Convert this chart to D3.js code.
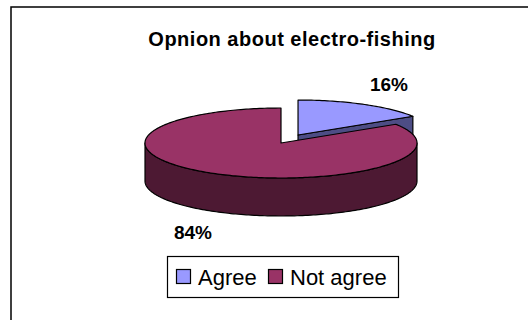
<!DOCTYPE html>
<html><head><meta charset="utf-8">
<script src="https://cdn.jsdelivr.net/npm/d3@7"></script>
<style>html,body{margin:0;padding:0;background:#fff;}svg{display:block;}</style>
</head><body>
<script>
const title = "Opnion about electro-fishing";
const categories = ["Agree", "Not agree"];
const values = [16, 84];
const labels = ["16%", "84%"];
const topColors = ["#9999ff", "#993366"];
const sideColors = ["#4d4d85", "#4d1933"];

const W = 528, H = 320;
const svg = d3.select("body").append("svg").attr("width", W).attr("height", H);
svg.append("rect").attr("x", 11).attr("y", 7).attr("width", 540).attr("height", 340)
  .attr("fill", "#fff").attr("stroke", "#000").attr("stroke-width", 1.5);

svg.append("text").attr("x", 292).attr("y", 46).attr("text-anchor", "middle")
  .attr("font-family", "Liberation Sans, Arial, sans-serif").attr("font-weight", "bold")
  .attr("font-size", 20).attr("letter-spacing", 0.5).text(title);

const cx = 281, cy = 143, rx = 136, ry = 35, depth = 38, explode = 0.26;
const pie = d3.pie().sort(null).startAngle(0).endAngle(2 * Math.PI);
const arcs = pie(values);

function pt(a, ox, oy, dz) { return [cx + ox + rx * Math.sin(a), cy + oy - ry * Math.cos(a) + (dz || 0)]; }
function samples(a0, a1) {
  const n = Math.max(2, Math.ceil(Math.abs(a1 - a0) / 0.02));
  return d3.range(n + 1).map(i => a0 + (a1 - a0) * i / n);
}
const line = d3.line();
const offsets = arcs.map((d, i) => {
  if (i !== 0) return [0, 0];
  const m = (d.startAngle + d.endAngle) / 2;
  return [explode * rx * Math.sin(m), -explode * ry * Math.cos(m)];
});

const g = svg.append("g").attr("stroke", "#000").attr("stroke-width", 1.2).attr("stroke-linejoin", "round");

function drawSlice(d, i) {
  const [ox, oy] = offsets[i];
  const c = [cx + ox, cy + oy];
  // radial faces visible
  [d.startAngle, d.endAngle].forEach((a, k) => {
    const normal = k === 0 ? a - Math.PI / 2 : a + Math.PI / 2;
    if (Math.cos(normal) < -0.01) {
      const p = pt(a, ox, oy);
      g.append("path").attr("fill", sideColors[i])
        .attr("d", line([c, p, [p[0], p[1] + depth], [c[0], c[1] + depth]]) + "Z");
    }
  });
  // outer wall, visible between PI/2 and 3PI/2
  const a0 = Math.max(d.startAngle, Math.PI / 2), a1 = Math.min(d.endAngle, 3 * Math.PI / 2);
  if (a1 > a0) {
    const top = samples(a0, a1).map(a => pt(a, ox, oy));
    const bot = samples(a1, a0).map(a => pt(a, ox, oy, depth));
    g.append("path").attr("fill", sideColors[i]).attr("d", line(top.concat(bot)) + "Z");
  }
  // top face
  const rim = samples(d.startAngle, d.endAngle).map(a => pt(a, ox, oy));
  g.append("path").attr("fill", topColors[i]).attr("d", line([c].concat(rim)) + "Z");
}
arcs.forEach(drawSlice);

const lblPos = [[389, 91], [193, 239]];
svg.selectAll("text.pct").data(labels).enter().append("text").attr("class", "pct")
  .attr("x", (d, i) => lblPos[i][0]).attr("y", (d, i) => lblPos[i][1])
  .attr("text-anchor", "middle").attr("font-family", "Liberation Sans, Arial, sans-serif")
  .attr("font-weight", "bold").attr("font-size", 19).text(d => d);

// legend
const lg = svg.append("g");
lg.append("rect").attr("x", 167.5).attr("y", 256.5).attr("width", 231).attr("height", 41)
  .attr("fill", "#fff").attr("stroke", "#000").attr("stroke-width", 1.2);
const legX = [176, 268];
categories.forEach((c, i) => {
  lg.append("rect").attr("x", legX[i] + 0.5).attr("y", 269.5).attr("width", 14).attr("height", 14)
    .attr("fill", topColors[i]).attr("stroke", "#000").attr("stroke-width", 1.2);
  lg.append("text").attr("x", legX[i] + 22).attr("y", 284.5)
    .attr("font-family", "Liberation Sans, Arial, sans-serif").attr("font-size", 22).text(c);
});
</script>
</body></html>
